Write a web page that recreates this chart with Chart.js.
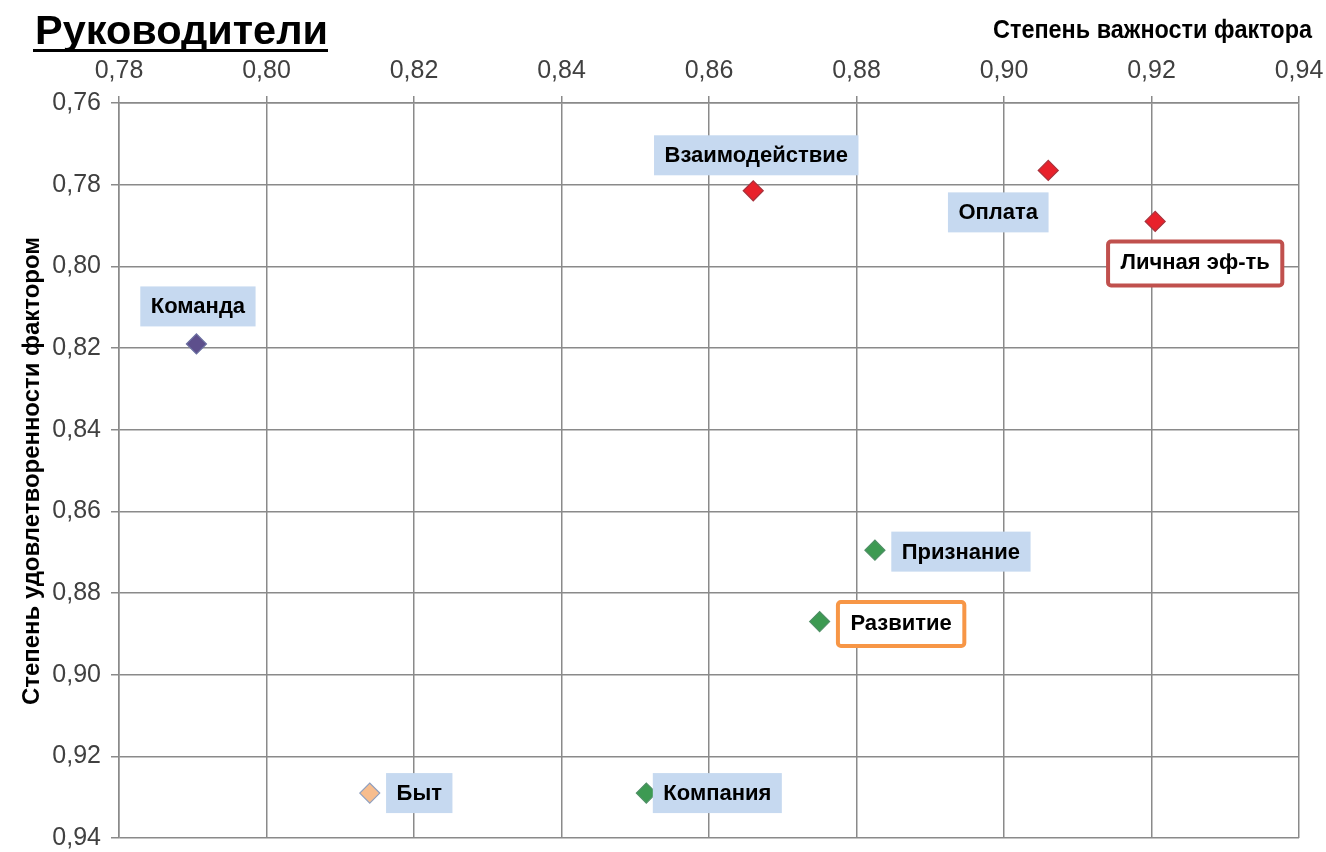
<!DOCTYPE html>
<html>
<head>
<meta charset="utf-8">
<script src="https://cdn.jsdelivr.net/npm/chart.js@4.4.1/dist/chart.umd.min.js"></script>
<style>
  html, body { margin: 0; padding: 0; background: #fff; }
  #wrap { width: 1326px; height: 852px; }
</style>
</head>
<body>
<div id="wrap"><canvas id="chart" width="1326" height="852"></canvas></div>
<script>
// data
const factors = ['Взаимодействие', 'Оплата', 'Личная эф-ть', 'Команда', 'Признание', 'Развитие', 'Быт', 'Компания'];
const importance = [0.866, 0.906, 0.9205, 0.7905, 0.8825, 0.875, 0.814, 0.8515];
const satisfaction = [0.7815, 0.7765, 0.789, 0.819, 0.8695, 0.887, 0.929, 0.929];
const xTicks = [0.78, 0.80, 0.82, 0.84, 0.86, 0.88, 0.90, 0.92, 0.94];
const yTicks = [0.76, 0.78, 0.80, 0.82, 0.84, 0.86, 0.88, 0.90, 0.92, 0.94];

// look of each point and its label
const pointFill = ['#e8212b', '#e8212b', '#e8212b', '#5d4f8c', '#3d9a52', '#3d9a52', '#f7bd8e', '#3d9a52'];
const pointEdge = ['#a8323c', '#a8323c', '#a8323c', '#6a6fa0', '#4f8f66', '#4f8f66', '#8e9fbf', '#4f8f66'];
// label box centre offset from the point (px) and frame style
const labelDx = [3, -50, 40, 1.5, 86, 81.5, 49.5, 71];
const labelDy = [-35.5, 42, 41, -37.5, 1.5, 1.5, 0, 0];
const labelFrame = [null, null, '#c0504d', null, null, '#f79646', null, null];

const fmt = v => v.toFixed(2).replace('.', ',');
const gridColor = '#8a8a8a';
const tickFont = { family: '"Liberation Sans Narrow", "Arial Narrow", sans-serif', size: 25 };

// text squeezed or stretched to the width it has in the picture
function fitText(ctx, text, x, y, width) {
  const w = ctx.measureText(text).width;
  ctx.save();
  ctx.translate(x, y);
  ctx.scale(width / w, 1);
  ctx.fillText(text, 0, 0);
  ctx.restore();
}

const decor = {
  id: 'decor',
  afterDatasetsDraw(chart) {
    const ctx = chart.ctx;
    const meta = chart.getDatasetMeta(0);
    ctx.save();
    ctx.font = 'bold 22px "Liberation Sans", Arial, sans-serif';
    ctx.textBaseline = 'middle';
    ctx.textAlign = 'center';
    meta.data.forEach((pt, i) => {
      const cx = pt.x + labelDx[i];
      const cy = pt.y + labelDy[i];
      const w = ctx.measureText(factors[i]).width + 21;
      const h = 40;
      if (labelFrame[i]) {
        ctx.fillStyle = '#fff';
        ctx.strokeStyle = labelFrame[i];
        ctx.lineWidth = 4;
        ctx.beginPath();
        ctx.roundRect(cx - w / 2 - 2, cy - h / 2 - 1, w + 4, h + 4, 3);
        ctx.fill();
        ctx.stroke();
      } else {
        ctx.fillStyle = '#c6d9f0';
        ctx.fillRect(cx - w / 2, cy - h / 2, w, h);
      }
      ctx.fillStyle = '#000';
      ctx.fillText(factors[i], cx, cy + 1);
    });
    ctx.restore();
  },
  afterDraw(chart) {
    const ctx = chart.ctx;
    ctx.save();
    ctx.fillStyle = '#000';
    ctx.textBaseline = 'alphabetic';
    ctx.textAlign = 'left';
    // title
    ctx.font = 'bold 40px "Liberation Sans", Arial, sans-serif';
    fitText(ctx, 'Руководители', 35, 44, 293);
    ctx.fillRect(33, 49, 295, 3);
    // x axis title
    ctx.font = 'bold 25px "Liberation Sans", Arial, sans-serif';
    fitText(ctx, 'Степень важности фактора', 993, 38, 319);
    // y axis title
    ctx.translate(39, 705);
    ctx.rotate(-Math.PI / 2);
    ctx.font = 'bold 24px "Liberation Sans", Arial, sans-serif';
    fitText(ctx, 'Степень удовлетворенности фактором', 0, 0, 468);
    ctx.restore();
  }
};

const noPad = s => { s.paddingLeft = 0; s.paddingRight = 0; s.paddingTop = 0; s.paddingBottom = 0; };

new Chart(document.getElementById('chart'), {
  type: 'scatter',
  data: {
    datasets: [{
      data: factors.map((f, i) => ({ x: importance[i], y: satisfaction[i] })),
      pointStyle: 'rectRot',
      pointRadius: 10,
      pointBorderWidth: 1.2,
      backgroundColor: pointFill,
      borderColor: pointEdge
    }]
  },
  options: {
    responsive: false,
    animation: false,
    devicePixelRatio: 1,
    layout: { padding: { left: 0, right: 27, top: 0, bottom: 14 } },
    plugins: { legend: { display: false }, tooltip: { enabled: false } },
    scales: {
      x: {
        type: 'linear',
        position: 'top',
        min: 0.78,
        max: 0.94,
        afterBuildTicks: s => { s.ticks = xTicks.map(v => ({ value: v })); },
        afterFit: s => { s.height = 103; noPad(s); },
        grid: { color: gridColor, lineWidth: 1.5, tickLength: 7 },
        border: { color: gridColor, width: 1.5 },
        ticks: { font: tickFont, color: '#404040', padding: 10, maxRotation: 0, callback: v => fmt(v) }
      },
      y: {
        type: 'linear',
        reverse: true,
        min: 0.76,
        max: 0.94,
        afterBuildTicks: s => { s.ticks = yTicks.map(v => ({ value: v })); },
        afterFit: s => { s.width = 119; noPad(s); },
        grid: { color: gridColor, lineWidth: 1.5, tickLength: 8 },
        border: { color: gridColor, width: 1.5 },
        ticks: { font: tickFont, color: '#404040', padding: 10, callback: v => fmt(v) }
      }
    }
  },
  plugins: [decor]
});
</script>
</body>
</html>
